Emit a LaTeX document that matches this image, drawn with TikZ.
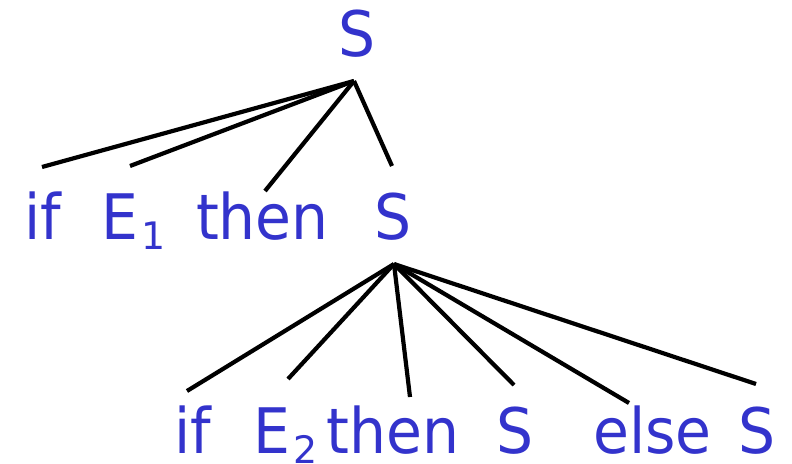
\documentclass[tikz,border=0pt]{standalone}
\usepackage{fontspec}
\setmainfont{DejaVu Sans}
\definecolor{txtblue}{RGB}{51,51,204}
\newcommand{\wordtext}[1]{\scalebox{0.93}[1]{#1}}
\tikzset{
  word/.style={anchor=base, inner sep=0pt, text=txtblue, font=\fontsize{63}{63}\selectfont},
  wordw/.style={word, anchor=base west},
  branch/.style={draw=black, line width=4.2bp, line cap=butt}
}
\newcommand{\subnum}[1]{\raisebox{-10bp}{\fontsize{38}{38}\selectfont #1}}
\begin{document}
\begin{tikzpicture}[x=1bp,y=-1bp]
\useasboundingbox (0,0) rectangle (792,464);
% top level
\node[word] (s0) at (357,57) {\wordtext{S}};
\coordinate (a1) at (354,81);
\node[word] (if1) at (42.5,240) {\wordtext{if}};
\node[wordw] (e1) at (101,240) {\wordtext{E}\hspace{3bp}\subnum{1}};
\node[word] (then1) at (262.5,240) {\wordtext{then}};
\node[word] (s1) at (393.5,240) {\wordtext{S}};
\coordinate (t-if1) at (42,167);
\coordinate (t-e1) at (130,166);
\coordinate (t-then1) at (265,191);
\coordinate (t-s1) at (392,166);
\draw[branch] (a1) -- (t-if1);
\draw[branch] (a1) -- (t-e1);
\draw[branch] (a1) -- (t-then1);
\draw[branch] (a1) -- (t-s1);
% second level
\coordinate (a2) at (394,264);
\node[word] (if2) at (192.5,453) {\wordtext{if}};
\node[wordw] (e2) at (253,453) {\wordtext{E}\hspace{3bp}\subnum{2}};
\node[word] (then2) at (393,453) {\wordtext{then}};
\node[word] (s2) at (515,453) {\wordtext{S}};
\node[word] (else2) at (652.5,453) {\wordtext{else}};
\node[word] (s3) at (757.5,453) {\wordtext{S}};
\coordinate (t-if2) at (187,391);
\coordinate (t-e2) at (288,379);
\coordinate (t-then2) at (410,397);
\coordinate (t-s2) at (514,385);
\coordinate (t-else2) at (629,403);
\coordinate (t-s3) at (756,384);
\draw[branch] (a2) -- (t-if2);
\draw[branch] (a2) -- (t-e2);
\draw[branch] (a2) -- (t-then2);
\draw[branch] (a2) -- (t-s2);
\draw[branch] (a2) -- (t-else2);
\draw[branch] (a2) -- (t-s3);
\end{tikzpicture}
\end{document}
